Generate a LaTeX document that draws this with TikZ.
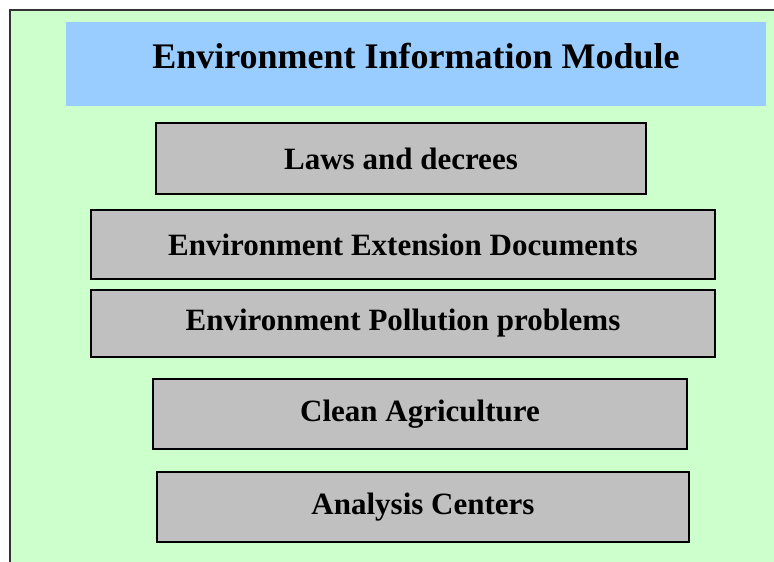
\documentclass[tikz,border=0pt]{standalone}
\usepackage{fontspec}
\setmainfont{Liberation Serif}
\usepackage{tikz}
\definecolor{panelgreen}{HTML}{CCFFCC}
\definecolor{titleblue}{HTML}{99CCFF}
\definecolor{boxgray}{HTML}{C0C0C0}
\tikzset{
  modbox/.style={draw=black, line width=1.8pt, fill=boxgray, inner sep=0pt,
    font=\fontsize{31}{36}\selectfont\bfseries},
}
\begin{document}
\begin{tikzpicture}[x=1pt,y=-1pt]
        \useasboundingbox (0,0) rectangle (774,562);
        %panel
        \fill[panelgreen] (10,10) rectangle (774,562);
        \draw[line width=1.8pt, black!80] (10,562) -- (10,10) -- (774,10);
        \fill[titleblue] (66,22) rectangle (766,106);
        \node[font=\fontsize{36}{40}\selectfont\bfseries] (title) at (416,56) {Environment Information Module};
        %modules
        \node[modbox, minimum width=490, minimum height=71] (laws) at (401,158.5) {Laws and decrees};
        \node[modbox, minimum width=624, minimum height=69] (ext) at (403,244.5) {Environment Extension Documents};
        \node[modbox, minimum width=624, minimum height=67] (poll) at (403,323.5) {Environment Pollution problems};
        \node[modbox, minimum width=534, minimum height=70] (clean) at (420,414) {Clean Agriculture};
        \node[modbox, minimum width=532, minimum height=70] (centers) at (423,507) {Analysis Centers};
        \end{tikzpicture}
\end{document}
